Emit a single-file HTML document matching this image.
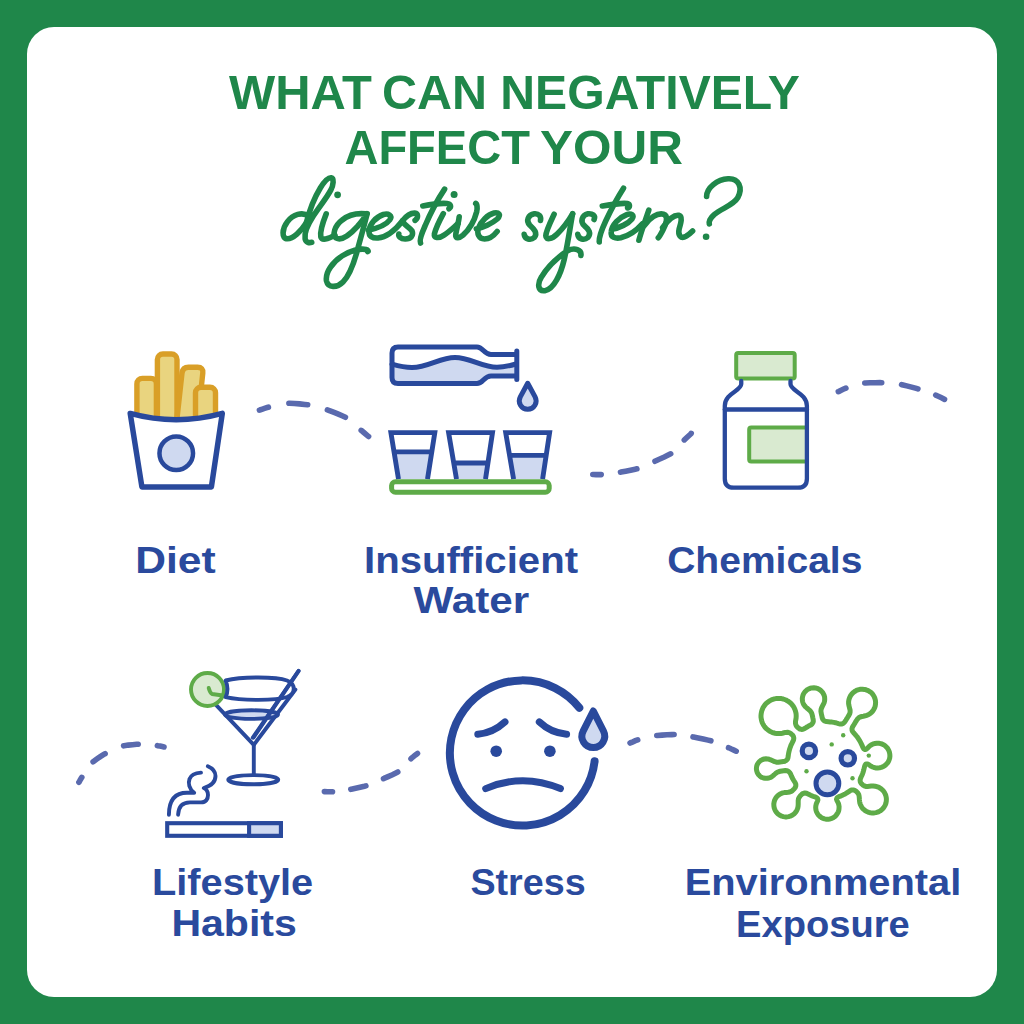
<!DOCTYPE html>
<html><head><meta charset="utf-8">
<style>
html,body{margin:0;padding:0;width:1024px;height:1024px;overflow:hidden;background:#1f874a;}
svg{display:block;position:absolute;left:0;top:0;}
text{font-family:"Liberation Sans",sans-serif;font-weight:bold;}
</style></head>
<body>
<svg width="1024" height="1024" viewBox="0 0 1024 1024">
<rect x="0" y="0" width="1024" height="1024" fill="#1f874a"/>
<rect x="27" y="27" width="970" height="970" rx="27" ry="27" fill="#ffffff"/>

<!-- HEADING -->
<g fill="#1f874a" font-size="49">
<text x="229" y="109" textLength="143" lengthAdjust="spacingAndGlyphs">WHAT</text>
<text x="382" y="109" textLength="105" lengthAdjust="spacingAndGlyphs">CAN</text>
<text x="500.3" y="109" textLength="299.7" lengthAdjust="spacingAndGlyphs">NEGATIVELY</text>
<text x="344.4" y="164" textLength="185.6" lengthAdjust="spacingAndGlyphs">AFFECT</text>
<text x="540" y="164" textLength="143" lengthAdjust="spacingAndGlyphs">YOUR</text>
</g>

<!-- SCRIPT -->
<g id="script" fill="none" stroke="#1f874a" stroke-width="5.6" stroke-linecap="round" stroke-linejoin="round">
<path d="M308.6 216.1C302.3 211.4 293.0 214.5 287.5 221.6C282.0 228.6 281.2 238.8 287.5 238.8C293.0 238.8 300.8 231.7 306.2 223.1"/>
<path d="M306.2 223.1C308.6 213.8 314.1 198.1 320.3 188.0C324.2 181.7 328.1 177.4 331.2 177.8C334.4 178.2 333.2 185.6 330.9 189.9C326.6 198.1 318.8 207.5 313.3 216.1C307.8 224.7 303.9 232.5 305.1 238.8C305.9 242.7 309.4 243.0 311.7 242.3"/>
<path d="M326.2 213.9C323.1 221.7 320.0 231.9 320.8 236.6C321.6 240.5 327.8 239.7 334.8 235.0"/>
<path d="M366.1 213.9C359.1 213.1 349.7 213.9 341.9 220.2C334.8 225.6 331.7 235.0 336.4 238.1C341.9 241.2 351.2 233.4 357.5 226.4C361.4 221.7 364.5 217.8 366.9 213.9"/>
<path d="M367.2 213.6C364 226 361 237 358.5 246C355 260 350 275 343 282C337 288 328 288 326.5 281C325 272 333 262 342 256C350 251 360 248 366 249.5C368 250 368.5 251 367.7 251.6"/>
<path d="M368.2 230.2C375.6 228.6 385.8 225.5 389.7 220.0C392.8 215.3 388.1 213.0 383.4 214.5C375.6 216.9 369.4 224.7 369.0 230.9C368.6 236.4 372.5 238.4 378.0 238.0C386.6 237.2 395.9 229.4 402.6 220.8C406.1 216.1 410.8 213.0 414.7 213.1C418.6 213.4 418.2 218.4 415.1 220.4"/>
<path d="M402.6 220.8C403.8 225.5 410.0 227.0 412.0 230.9C413.9 235.6 410.8 238.8 405.3 239.0C400.6 239.1 398.3 236.4 398.8 234.1"/>
<path d="M444.6 189.1C438 199 430 214 425 226C421 235 419.5 241 420.5 243"/>
<path d="M422.8 206C430 204.5 440 203 447 203.5C451 204 451.5 207 449 208.8"/>
<path d="M443.3 213.6C440.2 219.3 435.7 228.2 434.4 233.9C433.8 237.7 438.3 239.0 444.0 235.1C449.0 232.0 454.1 226.9 457.9 223.7"/>
<path d="M459.2 216.7C458.6 223.1 456.0 230.7 455.7 235.1C455.4 239.0 459.2 238.3 463.0 235.1C469.4 229.4 474.4 220.5 476.7 211.7C477.6 207.9 477.0 204.0 475.7 203.4"/>
<path d="M476.3 228.9C482.6 227.9 492.1 223.5 497.2 219.0C501.7 214.6 498.5 212.1 494.0 213.0C487.7 214.6 480.7 221.6 478.5 227.9C476.6 233.6 478.8 238.7 484.5 239.0C489.6 239.0 494.0 235.5 497.2 231.4"/>
<path d="M540.5 220.4C541.4 216.4 538.7 213.3 534.3 213.8C528.2 214.7 525.5 220.8 529.9 225.2C534.3 229.2 537.9 233.1 534.3 237.5C530.8 240.6 524.7 239.3 524.2 234.4"/>
<path d="M554.1 214.2C551.0 220.8 545.8 231.4 545.8 235.8C545.8 240.2 551.9 239.3 557.2 234.0C564.2 227.0 569.5 219.1 572.6 213.8"/>
<path d="M572.6 213.8C570.4 225.2 567.7 244.6 564.2 259.5C560.7 274.4 553.7 289.4 544.9 290.7C537.9 291.6 537.0 284.1 541.4 277.1C546.6 268.3 557.2 257.7 567.7 250.7C574.8 247.2 581.8 249.8 580.9 255.5"/>
<path d="M594.1 219.5C595.9 215.5 592.3 213.3 587.9 213.8C581.8 215.1 580.0 221.7 584.4 225.7C588.8 229.2 591.5 233.1 587.9 237.5C584.4 240.6 578.3 239.3 577.8 234.4"/>
<path d="M623.5 188.2C618.7 195.7 610.5 210.8 605.7 221.0C601.6 229.9 598.9 238.1 599.2 241.9"/>
<path d="M602.3 206.0C610.5 204.6 622.1 202.6 627.3 203.6C630.3 204.3 630.0 207.3 627.6 208.0"/>
<path d="M611.9 229.2C619.4 227.9 628.3 223.7 632.0 219.0C635.1 214.9 631.0 212.8 626.2 214.9C619.4 217.6 611.9 224.4 611.2 232.0C610.5 237.4 615.3 238.8 620.8 237.8C628.3 236.1 636.5 230.6 642.6 223.7"/>
<path d="M648.8 210.1C646.1 218.3 642.0 229.2 638.9 240.2"/>
<path d="M644.3 225.5C649.7 218.0 657.2 212.6 663.6 214.2C669.0 215.8 665.8 224.4 663.1 229.8C660.9 234.1 658.8 237.3 658.3 237.8"/>
<path d="M662.6 227.6C667.9 220.1 674.4 214.7 678.7 215.3C683.0 216.4 680.8 223.3 679.2 228.7C677.6 235.2 680.8 239.5 686.2 236.2C689.4 234.1 691.6 231.9 692.6 230.9"/>
<path d="M706.6 196.5C706.6 187.9 717.3 179.3 728.1 178.8C738.8 178.2 743.1 187.9 737.8 197.6C733.5 205.1 721.6 208.3 714.1 214.7C709.8 218.0 708.8 222.3 709.3 223.9"/>
<circle cx="337.6" cy="194.8" r="3.4" fill="#1f874a" stroke="none"/>
<circle cx="454.1" cy="194.5" r="3.5" fill="#1f874a" stroke="none"/>
<circle cx="706.1" cy="236.8" r="3.3" fill="#1f874a" stroke="none"/>
</g>

<!-- LABELS -->
<g fill="#2a4a9d" font-size="37">
<text x="135.2" y="573" textLength="80.4" lengthAdjust="spacingAndGlyphs">Diet</text>
<text x="364" y="573" textLength="214" lengthAdjust="spacingAndGlyphs">Insufficient</text>
<text x="413.4" y="613.2" textLength="115.8" lengthAdjust="spacingAndGlyphs">Water</text>
<text x="667.2" y="573.4" textLength="195.2" lengthAdjust="spacingAndGlyphs">Chemicals</text>
<text x="152" y="895" textLength="161.2" lengthAdjust="spacingAndGlyphs">Lifestyle</text>
<text x="171.4" y="936" textLength="125.4" lengthAdjust="spacingAndGlyphs">Habits</text>
<text x="470.4" y="894.8" textLength="115.2" lengthAdjust="spacingAndGlyphs">Stress</text>
<text x="684.7" y="894.6" textLength="276.6" lengthAdjust="spacingAndGlyphs">Environmental</text>
<text x="736" y="936.5" textLength="173.8" lengthAdjust="spacingAndGlyphs">Exposure</text>
</g>

<!-- DASHED CURVES -->
<g id="dashes" fill="none" stroke="#5a6aae" stroke-width="5.6" stroke-linecap="round">
<path d="M259.4 410.1L259.8 410.0L262.5 409.1L265.2 408.2L268.0 407.3L268.4 407.2M288.9 403.3L289.4 403.3L294.4 403.5L299.6 403.9L304.7 404.5L307.7 404.8M327.4 409.9L328.0 410.1L332.8 411.9L337.8 413.9L342.7 416.0L345.4 417.3M361.2 430.4L361.5 430.6L363.8 432.5L366.0 434.4L368.3 436.3L368.6 436.5"/>
<path d="M592.8 474.5L593.2 474.5L596.0 474.6L598.8 474.6L601.2 474.6M620.5 472.2L621.0 472.1L625.6 471.2L630.5 470.2L635.2 469.2L636.9 468.8M655.0 461.2L655.5 460.9L659.8 459.0L664.3 457.0L668.7 454.8L670.7 453.8M684.3 439.9L684.5 439.7L686.6 437.7L688.8 435.7L691.0 433.7L691.2 433.4"/>
<path d="M838.3 391.7L838.6 391.6L841.2 390.3L843.7 389.1L845.9 388.1M864.8 383.0L865.3 383.0L870.1 382.8L875.1 382.7L880.0 382.6L881.7 382.7M901.6 384.6L902.1 384.8L906.7 385.9L911.6 387.1L916.3 388.4L917.9 388.9M935.8 395.1L936.1 395.3L938.8 396.5L941.5 397.8L944.2 399.2L944.5 399.4"/>
<path d="M78.9 782.2L79.1 782.0L80.1 780.2L81.2 778.3L81.8 777.4M93.1 761.7L93.5 761.4L96.8 759.0L100.3 756.6L103.8 754.4L105.1 753.7M123.6 745.8L124.1 745.7L128.2 745.1L132.5 744.7L136.7 744.3L138.2 744.2M157.4 745.6L157.7 745.7L160.0 746.1L162.3 746.6L164.0 747.0"/>
<path d="M324.4 791.6L324.7 791.6L327.5 791.7L330.2 791.7L332.5 791.7M350.8 789.3L351.3 789.2L355.6 788.3L360.1 787.3L364.4 786.3L365.9 785.9M383.5 778.6L384.0 778.4L388.1 776.6L392.4 774.7L396.4 772.7L397.8 772.0M411.0 758.7L411.3 758.4L413.4 756.7L415.5 754.9L417.5 753.4"/>
<path d="M630.1 743.0L630.4 742.8L632.9 741.8L635.4 740.7L637.7 739.9M656.8 735.5L657.3 735.5L662.0 735.1L667.0 734.8L671.9 734.6L674.1 734.5M693.0 736.9L693.5 737.0L698.2 737.9L703.2 739.0L708.1 740.1L710.9 740.8M728.5 747.7L728.9 747.8L731.4 749.0L733.9 750.1L736.2 751.2"/>
</g>

<!-- ICONS -->
<g id="icons">

<!-- fries -->
<g stroke="#d99f27" stroke-width="5.4" fill="#e9d47f" stroke-linejoin="round">
<rect x="136.9" y="378.4" width="19.5" height="60" rx="5.5"/>
<rect x="157.4" y="354" width="19.6" height="80" rx="5.5"/>
<path d="M175.5 432L182 373Q182.8 367.3 188.5 367.3H197.5Q203.5 367.3 202.8 373L196.5 432Z"/>
<rect x="195.5" y="387.2" width="20" height="50" rx="5.5"/>
</g>
<path d="M130.2 413.4Q176.2 426 222.3 413.4L211.4 486.9H141.9Z" fill="#fff" stroke="#29499c" stroke-width="5.5" stroke-linejoin="round"/>
<circle cx="176.25" cy="453.3" r="16.8" fill="#cfd9f0" stroke="#29499c" stroke-width="4.5"/>

<!-- water -->
<path d="M392 364.2C400 366.5 406 367.5 412 367.5C428 367.5 440 357.5 455 357.5C470 357.5 482 367.3 497 367.3C503 367.3 509 366 516 364V375.9H491C484 375.9 483 383.6 477 383.6H398Q392 383.6 392 377.6Z" fill="#cfd9f0"/>
<g fill="none" stroke="#29499c" stroke-width="5" stroke-linejoin="round" stroke-linecap="round">
<path d="M392 364.2C400 366.5 406 367.5 412 367.5C428 367.5 440 357.5 455 357.5C470 357.5 482 367.3 497 367.3C503 367.3 509 366 516 364"/>
<path d="M516 354.6H491C484 354.6 483 347 477 347H398Q392 347 392 353V377.6Q392 383.6 398 383.6H477C483 383.6 484 375.9 491 375.9H516"/>
<path d="M516.8 351V379.5"/>
<path d="M527.7 383.3L535.1 396.9A8.4 8.4 0 1 1 520.3 396.9Z" fill="#cfd9f0"/>
</g>
<g fill="#cfd9f0">
<path d="M394.05 451.9H431.77L427.5 479.1H398.5Z"/>
<path d="M453.77 463H487.92L485.5 479.1H456.5Z"/>
<path d="M509.57 455.4H546.17L542.6 479.1H513.6Z"/>
</g>
<g fill="none" stroke="#29499c" stroke-width="4.9" stroke-linejoin="miter">
<path d="M398.5 479.1L390.9 432.6H434.8L427.5 479.1M394.05 451.9H431.77"/>
<path d="M456.5 479.1L448.6 432.6H492.5L485.5 479.1M453.77 463H487.92"/>
<path d="M513.6 479.1L505.7 432.6H549.6L542.6 479.1M509.57 455.4H546.17"/>
</g>
<rect x="391.6" y="481.8" width="157.6" height="10.4" rx="3.8" fill="#fff" stroke="#5eab48" stroke-width="5"/>

<!-- pill bottle -->
<rect x="736.2" y="352.9" width="58.5" height="25.7" rx="2" fill="#d9ead0" stroke="#5eab48" stroke-width="4"/>
<path d="M806.9 427.6H751.2Q749.2 427.6 749.2 429.6V459.4Q749.2 461.4 751.2 461.4H806.9" fill="#d9ead0" stroke="#5eab48" stroke-width="4"/>
<g fill="none" stroke="#29499c" stroke-width="4.3" stroke-linejoin="round" stroke-linecap="round">
<path d="M741.25 381V384C741.25 391 724.8 393 724.8 406V478.7Q724.8 487.7 733.8 487.7H797.9Q806.9 487.7 806.9 478.7V406C806.9 393 790.5 391 790.5 384V381"/>
<path d="M724.8 409.5H806.9"/>
</g>

<!-- martini + cigarette -->
<path d="M215.5 704.3L253.8 744.8L295.4 689.5" fill="none" stroke="#29499c" stroke-width="3.9" stroke-linejoin="round" stroke-linecap="round"/>
<circle cx="207.5" cy="689.5" r="16.5" fill="#d9ead0" stroke="#5eab48" stroke-width="3.9"/>
<path d="M208.7 688C209.5 691 210.5 693 212 694L224.6 695.8" fill="none" stroke="#5eab48" stroke-width="3.9" stroke-linejoin="round" stroke-linecap="round"/>
<g fill="none" stroke="#29499c" stroke-width="3.9" stroke-linejoin="round" stroke-linecap="round">
<path d="M225.6 680.5C242 676.5 276 676.5 287 680.5C296 684 296 693.5 287 697C276 700.8 242 700.8 225.6 697.2C228 692 228 686 225.6 680.5Z" fill="#fff"/>
<ellipse cx="251.5" cy="714.6" rx="26.5" ry="4.3" fill="#cfd9f0"/>
<path d="M298.4 671L252.8 737.7"/>
<path d="M253.8 744.8V775"/>
<ellipse cx="253.25" cy="779.7" rx="25" ry="4.6" fill="#fff"/>
<path d="M298.7 670.8L253.6 737.5"/>
<path d="M168.9 814.7C169 803 173 792.8 187 792.8H194.2C189 789 188 783 189.5 779C191 775 195 773 201 772.6"/>
<path d="M178.1 814.7C178.5 806 183 802.4 190 802.4H201C206 802.4 208 799 208 795C208 791.5 206 789 203.75 788C209 786.5 215.5 783 215.5 776C215.5 771 212 768 207.8 766.2"/>
</g>
<rect x="167.2" y="823.2" width="113.7" height="12.6" fill="#fff" stroke="#29499c" stroke-width="4.1"/>
<rect x="249.1" y="823.2" width="31.8" height="12.6" fill="#cfd9f0" stroke="#29499c" stroke-width="4.1"/>

<!-- face -->
<g fill="none" stroke="#29499c" stroke-linecap="round" stroke-linejoin="round">
<path d="M594.6 761.2A72.6 72.6 0 1 1 579.3 707.8" stroke-width="8"/>
<path d="M477.8 734.2Q493 733 505 721.9M539.3 721.9Q551 733 566.6 734.2M485.7 788.6Q522.6 772.8 560.4 788.6" stroke-width="7"/>
<path d="M593.3 711L603.46 731.04A11.4 11.4 0 1 1 583.14 731.04Z" fill="#cfd9f0" stroke-width="7"/>
</g>
<circle cx="496.2" cy="751.2" r="5.8" fill="#29499c"/>
<circle cx="549.9" cy="751.2" r="5.8" fill="#29499c"/>
<!-- virus -->
<path id="virus" d="M829.6 819.0L831.1 818.6L832.6 818.0L833.8 817.3L835.0 816.4L836.0 815.4L836.8 814.4L837.6 813.2L838.3 811.8L838.8 810.2L839.0 808.6L839.1 806.6L838.8 804.9L838.4 803.4L837.7 802.0L837.0 800.6L836.5 799.2L837.1 797.8L838.2 797.0L839.6 796.4L841.2 795.8L842.5 795.2L843.8 794.6L845.2 793.9L846.4 793.2L847.6 792.4L848.8 791.6L850.0 790.8L851.4 790.1L853.2 789.9L854.7 790.4L856.0 791.2L857.0 792.1L858.0 793.2L858.7 794.4L859.1 796.0L859.3 797.8L859.4 799.7L859.6 801.6L859.9 803.2L860.4 804.6L861.1 806.0L861.8 807.2L862.7 808.4L863.7 809.4L864.8 810.3L866.0 811.1L867.3 811.8L868.8 812.4L870.4 812.8L872.2 813.0L874.2 812.9L876.0 812.6L877.5 812.2L878.9 811.6L880.2 810.9L881.4 810.0L882.4 809.1L883.4 808.0L884.2 806.9L884.9 805.6L885.6 804.2L886.0 802.8L886.3 801.0L886.4 799.0L886.2 797.2L885.8 795.5L885.2 794.0L884.6 792.8L883.8 791.5L882.9 790.4L881.9 789.4L880.8 788.6L879.6 787.8L878.2 787.1L876.8 786.6L875.2 786.2L873.2 786.0L871.2 786.1L869.4 786.3L867.6 786.5L865.8 786.4L864.2 785.8L863.0 785.1L862.0 784.2L861.0 783.2L860.3 781.8L860.1 780.0L860.5 778.4L861.1 777.0L861.8 775.6L862.4 774.2L862.9 772.8L863.4 771.2L863.8 769.7L864.2 768.0L864.6 766.4L865.1 765.0L866.0 763.9L867.6 763.9L868.9 764.6L870.0 765.5L871.2 766.3L872.6 767.0L874.0 767.5L875.6 767.9L877.6 768.0L879.6 767.8L881.2 767.4L882.6 766.9L883.9 766.2L885.1 765.4L886.2 764.4L887.1 763.4L888.0 762.2L888.7 761.0L889.2 759.6L889.7 758.0L889.9 756.2L889.8 754.2L889.5 752.6L889.0 751.0L888.4 749.7L887.6 748.4L886.8 747.4L885.8 746.4L884.6 745.4L883.4 744.7L882.0 744.0L880.6 743.6L878.8 743.3L876.8 743.2L875.0 743.5L873.4 743.9L872.0 744.5L870.7 745.2L869.6 746.0L868.6 747.0L867.6 748.1L866.6 749.0L865.0 749.5L863.8 748.8L863.0 747.6L862.4 746.2L861.8 744.8L861.1 743.4L860.4 742.0L859.8 740.8L859.0 739.6L858.2 738.4L857.4 737.2L856.4 736.0L855.6 735.0L854.6 733.9L853.6 732.8L852.8 731.8L852.1 730.4L852.0 728.6L852.4 727.2L853.2 725.8L854.0 724.6L854.7 723.4L855.4 722.2L856.2 721.0L857.0 719.7L857.9 718.6L859.0 717.6L860.2 717.0L861.8 716.5L863.4 716.2L865.2 715.8L866.7 715.4L868.1 714.8L869.4 714.1L870.6 713.2L871.6 712.3L872.6 711.2L873.4 710.1L874.1 708.8L874.8 707.4L875.2 706.0L875.5 704.2L875.6 702.2L875.4 700.4L875.0 698.7L874.4 697.2L873.8 696.0L873.0 694.7L872.1 693.6L871.1 692.6L870.0 691.8L868.8 691.0L867.4 690.3L866.0 689.8L864.4 689.4L862.4 689.2L860.4 689.3L858.8 689.6L857.2 690.1L855.8 690.8L854.6 691.5L853.4 692.4L852.4 693.3L851.5 694.4L850.6 695.6L850.0 696.8L849.4 698.2L848.9 699.8L848.6 701.6L848.6 703.6L848.9 705.4L849.3 707.0L849.7 708.6L850.1 710.2L850.1 712.2L849.7 713.8L849.0 715.1L848.2 716.4L847.5 717.6L846.7 718.8L846.0 720.0L845.2 721.3L844.4 722.4L843.2 723.4L841.8 724.0L840.2 724.0L838.4 723.6L837.0 723.2L835.4 722.7L833.8 722.4L832.0 722.1L830.2 721.9L828.4 721.7L826.4 721.6L824.9 721.2L823.6 720.4L822.8 719.3L822.2 717.8L821.9 716.2L821.5 714.6L821.2 713.0L820.9 711.2L821.1 709.4L821.6 707.9L822.2 706.6L822.9 705.2L823.6 703.8L824.2 702.4L824.6 700.8L824.7 699.0L824.6 697.2L824.2 695.6L823.6 694.2L822.8 692.8L822.0 691.7L821.0 690.7L819.9 689.8L818.6 689.0L817.2 688.4L815.6 688.0L813.8 687.8L811.8 687.9L810.2 688.3L808.8 688.8L807.4 689.6L806.3 690.4L805.3 691.4L804.4 692.5L803.6 693.8L803.0 695.1L802.6 696.6L802.3 698.4L802.4 700.4L802.7 702.0L803.2 703.4L803.9 704.8L804.8 706.0L805.7 707.0L806.8 708.0L807.8 708.8L809.0 709.8L810.0 710.7L810.9 711.8L811.6 713.0L812.1 714.6L812.5 716.2L812.8 717.8L813.2 719.6L813.3 721.4L812.8 722.9L812.0 724.0L810.8 725.0L809.6 725.6L808.2 726.3L807.0 727.0L805.7 727.8L804.4 728.6L803.0 729.2L801.5 729.4L799.9 729.0L798.6 728.2L797.6 727.3L796.6 726.2L795.9 725.0L795.5 723.4L795.5 721.4L795.8 719.7L796.1 718.0L796.2 716.0L796.1 714.0L795.8 712.3L795.4 710.8L794.8 709.2L794.2 707.9L793.5 706.6L792.6 705.4L791.8 704.4L790.8 703.3L789.8 702.4L788.6 701.5L787.4 700.8L786.0 700.0L784.6 699.5L783.2 699.0L781.4 698.6L779.6 698.4L778.0 698.4L776.0 698.6L774.4 698.9L772.8 699.4L771.4 699.9L770.1 700.6L768.8 701.4L767.7 702.2L766.6 703.1L765.6 704.1L764.7 705.2L763.8 706.4L763.1 707.6L762.5 709.0L761.9 710.4L761.5 712.0L761.2 713.6L761.0 715.6L761.0 717.2L761.3 719.0L761.6 720.6L762.1 722.2L762.7 723.6L763.4 724.9L764.2 726.1L765.0 727.2L766.0 728.3L767.0 729.2L768.2 730.2L769.4 731.0L770.6 731.7L772.0 732.3L773.4 732.8L775.0 733.2L776.8 733.5L778.8 733.6L780.8 733.5L782.4 733.2L784.0 732.8L785.6 732.4L787.6 732.3L789.2 732.6L790.6 733.4L791.6 734.3L792.6 735.2L793.4 736.4L793.8 738.0L793.6 739.8L793.0 741.2L792.4 742.4L791.7 743.8L791.0 745.2L790.5 746.6L790.0 748.0L789.5 749.6L789.1 751.2L788.7 752.8L788.4 754.6L788.2 756.3L787.9 758.0L787.3 759.4L786.4 760.4L785.0 761.2L783.4 761.6L781.7 761.8L780.0 762.0L778.2 762.3L776.4 762.2L774.8 761.7L773.4 761.1L772.0 760.4L770.7 759.8L769.2 759.3L767.6 758.9L766.0 758.8L764.2 759.0L762.6 759.5L761.2 760.2L760.0 761.0L759.0 762.0L758.2 763.0L757.4 764.3L756.8 765.8L756.5 767.4L756.4 769.0L756.7 770.8L757.2 772.4L757.8 773.6L758.6 774.8L759.6 775.8L760.8 776.8L762.0 777.5L763.4 778.0L765.2 778.3L767.2 778.3L769.0 778.0L770.4 777.5L771.6 776.8L772.8 775.9L773.9 775.0L775.0 774.0L776.0 773.1L777.2 772.3L778.6 771.7L780.2 771.3L782.0 771.0L783.7 770.8L785.4 770.6L787.2 770.7L788.6 771.4L789.6 772.4L790.4 773.6L791.0 775.0L791.6 776.4L792.2 777.7L792.9 779.0L793.6 780.2L794.4 781.5L795.2 782.8L795.8 784.2L795.8 786.0L795.3 787.4L794.4 788.6L793.5 789.6L792.5 790.6L791.3 791.4L789.8 792.0L788.2 792.3L786.4 792.4L784.4 792.6L782.8 792.9L781.4 793.4L780.0 794.1L778.8 794.9L777.7 795.8L776.7 796.8L775.8 798.0L775.1 799.2L774.5 800.6L774.1 802.2L773.8 804.0L773.9 806.0L774.2 807.8L774.7 809.2L775.3 810.6L776.1 811.8L777.0 812.9L778.0 813.9L779.2 814.8L780.4 815.5L781.8 816.2L783.3 816.6L785.0 816.9L787.0 816.9L788.7 816.6L790.2 816.2L791.6 815.5L792.8 814.8L794.0 813.9L795.0 812.9L795.9 811.8L796.7 810.6L797.3 809.2L797.8 807.8L798.1 806.0L798.2 804.2L798.2 802.4L798.2 800.6L798.5 798.8L799.1 797.4L800.0 796.2L800.9 795.2L801.9 794.2L803.1 793.4L804.8 793.0L806.6 793.3L808.0 794.0L809.2 794.6L810.6 795.3L812.0 795.9L813.4 796.4L815.0 796.9L816.4 797.5L817.6 798.4L817.9 800.0L817.4 801.4L816.7 802.8L816.2 804.2L815.8 806.0L815.7 807.8L815.9 809.6L816.3 811.2L816.9 812.6L817.6 813.9L818.4 815.0L819.4 816.0L820.6 817.0L821.8 817.8L823.1 818.4L824.6 818.9L826.4 819.2L828.4 819.2Z" fill="#fff" stroke="#5eab48" stroke-width="5" stroke-linejoin="round"/>
<g fill="#cfd9f0" stroke="#29499c" stroke-width="5.2">
<circle cx="808.9" cy="750.9" r="6.7"/><circle cx="847.8" cy="758.3" r="6.7"/><circle cx="827.4" cy="783.4" r="11.4" stroke-width="5"/>
</g>
<g fill="#5eab48"><circle cx="843.2" cy="735.2" r="2.2"/><circle cx="831.7" cy="744.4" r="2.2"/><circle cx="868.8" cy="755.6" r="2.2"/><circle cx="806.5" cy="771.3" r="2.2"/><circle cx="852.5" cy="778.2" r="2.2"/></g>
</g>
</svg>
</body></html>
